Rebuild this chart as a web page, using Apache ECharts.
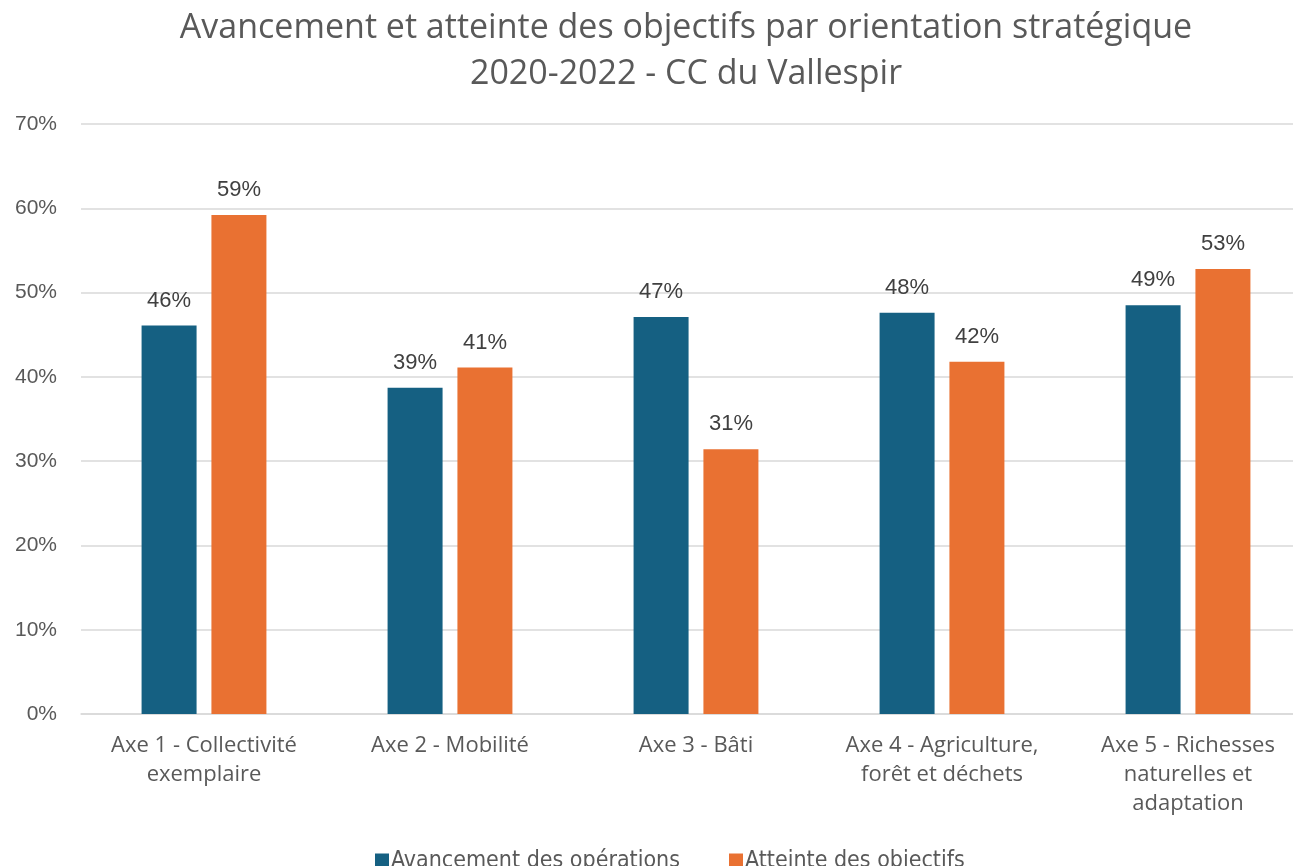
<!DOCTYPE html>
<html>
<head>
<meta charset="utf-8">
<script src="https://cdn.jsdelivr.net/npm/echarts@6/dist/echarts.min.js"></script>
<style>
  html, body { margin: 0; padding: 0; background: #fff; }
  #chart { width: 1293px; height: 866px; }
</style>
</head>
<body>
<div id="chart"></div>
<script>
const categories = [
  'Axe 1 - Collectivité\nexemplaire',
  'Axe 2 - Mobilité',
  'Axe 3 - Bâti',
  'Axe 4 - Agriculture,\nforêt et déchets',
  'Axe 5 - Richesses\nnaturelles et\nadaptation'
];
const avancement = [0.461, 0.387, 0.471, 0.476, 0.485];
const atteinte = [0.592, 0.411, 0.314, 0.418, 0.528];
const seriesNames = ['Avancement des opérations', 'Atteinte des objectifs'];

const chart = echarts.init(document.getElementById('chart'));
const pct = v => Math.round(v * 100) + '%';
const labelStyle = {
  show: true,
  position: 'top',
  distance: 14,
  formatter: p => pct(p.value),
  fontFamily: 'Liberation Sans',
  fontSize: 22,
  color: '#404040'
};

chart.setOption({
  animation: false,
  title: {
    text: 'Avancement et atteinte des objectifs par orientation stratégique\n2020-2022 - CC du Vallespir',
    left: 681,
    textAlign: 'center',
    top: 0,
    textStyle: {
      fontFamily: 'Open Sans',
      fontWeight: 'normal',
      fontSize: 34,
      lineHeight: 46,
      color: '#595959'
    }
  },
  legend: {
    data: seriesNames,
    left: 370,
    top: 845,
    icon: 'rect',
    itemWidth: 14,
    itemHeight: 16,
    itemGap: 49,
    textStyle: {
      fontFamily: 'DejaVu Sans Condensed',
      fontSize: 23,
      color: '#595959',
      padding: [0, 0, 0, -3]
    }
  },
  // plot area runs slightly past the right edge of the canvas
  grid: {
    left: 81, width: 1230, top: 124, bottom: 152,
    containLabel: false, outerBoundsMode: 'none'
  },
  xAxis: {
    type: 'category',
    data: categories,
    axisLine: { lineStyle: { color: '#d9d9d9', width: 1.5 } },
    axisTick: { show: false },
    axisLabel: {
      interval: 0,
      margin: 17,
      fontFamily: 'Open Sans',
      fontSize: 22,
      lineHeight: 29,
      color: '#595959'
    }
  },
  yAxis: {
    type: 'value',
    min: 0,
    max: 0.7,
    interval: 0.1,
    axisLine: { show: false },
    axisTick: { show: false },
    splitLine: { lineStyle: { color: '#d9d9d9', width: 1.5 } },
    axisLabel: {
      formatter: v => Math.round(v * 100) + '%',
      margin: 24,
      fontFamily: 'Liberation Sans',
      fontSize: 21,
      color: '#595959'
    }
  },
  series: [
    {
      name: seriesNames[0],
      type: 'bar',
      data: avancement,
      barWidth: 55,
      barGap: '27%',
      itemStyle: { color: '#156082' },
      label: labelStyle
    },
    {
      name: seriesNames[1],
      type: 'bar',
      data: atteinte,
      barWidth: 55,
      itemStyle: { color: '#E97132' },
      label: labelStyle
    }
  ]
});
</script>
</body>
</html>
